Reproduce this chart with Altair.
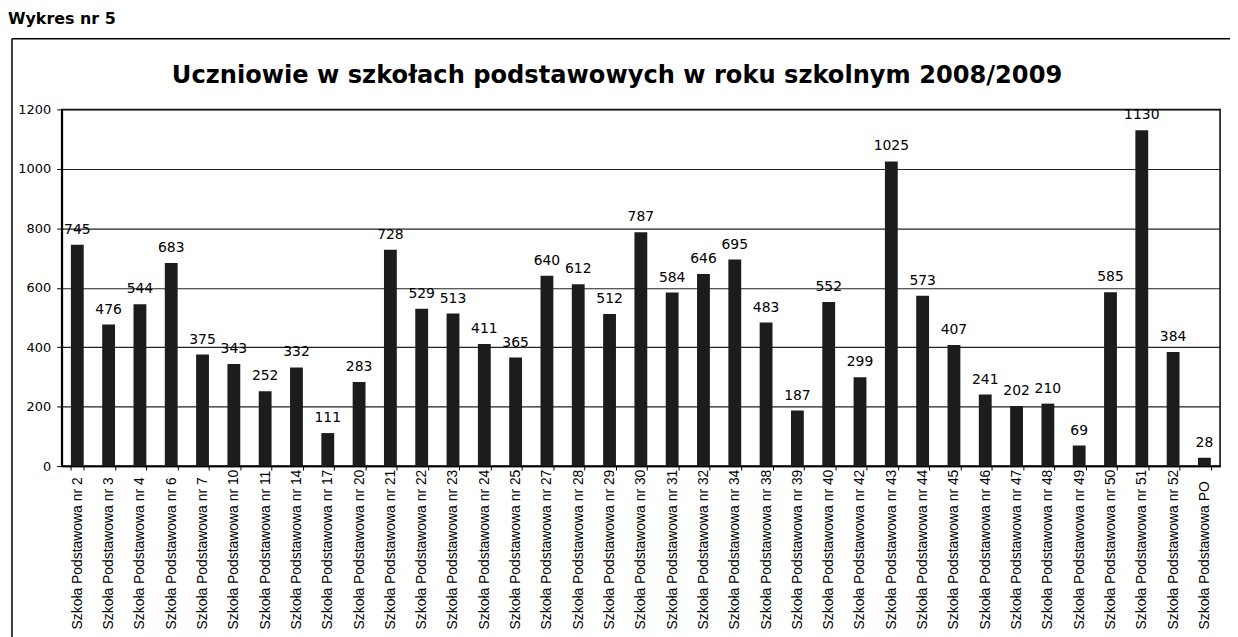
import altair as alt
import pandas as pd

schools = [
    "Szkoła Podstawowa nr 2", "Szkoła Podstawowa nr 3", "Szkoła Podstawowa nr 4",
    "Szkoła Podstawowa nr 6", "Szkoła Podstawowa nr 7", "Szkoła Podstawowa nr 10",
    "Szkoła Podstawowa nr 11", "Szkoła Podstawowa nr 14", "Szkoła Podstawowa nr 17",
    "Szkoła Podstawowa nr 20", "Szkoła Podstawowa nr 21", "Szkoła Podstawowa nr 22",
    "Szkoła Podstawowa nr 23", "Szkoła Podstawowa nr 24", "Szkoła Podstawowa nr 25",
    "Szkoła Podstawowa nr 27", "Szkoła Podstawowa nr 28", "Szkoła Podstawowa nr 29",
    "Szkoła Podstawowa nr 30", "Szkoła Podstawowa nr 31", "Szkoła Podstawowa nr 32",
    "Szkoła Podstawowa nr 34", "Szkoła Podstawowa nr 38", "Szkoła Podstawowa nr 39",
    "Szkoła Podstawowa nr 40", "Szkoła Podstawowa nr 42", "Szkoła Podstawowa nr 43",
    "Szkoła Podstawowa nr 44", "Szkoła Podstawowa nr 45", "Szkoła Podstawowa nr 46",
    "Szkoła Podstawowa nr 47", "Szkoła Podstawowa nr 48", "Szkoła Podstawowa nr 49",
    "Szkoła Podstawowa nr 50", "Szkoła Podstawowa nr 51", "Szkoła Podstawowa nr 52",
    "Szkoła Podstawowa PO",
]
students = [
    745, 476, 544, 683, 375, 343, 252, 332, 111, 283, 728, 529, 513, 411, 365,
    640, 612, 512, 787, 584, 646, 695, 483, 187, 552, 299, 1025, 573, 407, 241,
    202, 210, 69, 585, 1130, 384, 28,
]
y_ticks = [0, 200, 400, 600, 800, 1000, 1200]
title_text = ["Uczniowie w szkołach podstawowych w roku szkolnym 2008/2009"]
corner_text = ["Wykres nr 5"]

df = pd.DataFrame({"szkola": schools, "uczniowie": students})

x_enc = alt.X(
    "szkola:N",
    sort=schools,
    scale=alt.Scale(paddingInner=0.59, paddingOuter=0.295),
    axis=alt.Axis(
        title=None,
        labelAngle=270,
        labelAlign="left",
        labelBaseline="middle",
        labelPadding=160,
        labelFont="Liberation Sans",
        labelFontSize=14,
        labelColor="#000",
        labelLimit=300,
        tickBand="extent",
        tickSize=4,
        tickColor="#000",
        domainColor="#000",
        domainWidth=1.5,
    ),
)
y_enc = alt.Y(
    "uczniowie:Q",
    scale=alt.Scale(domain=[0, 1200], nice=False),
    axis=alt.Axis(
        title=None,
        values=y_ticks,
        format="d",
        grid=True,
        gridColor="#222",
        gridWidth=1.2,
        tickSize=5,
        tickColor="#000",
        domainColor="#000",
        domainWidth=2,
        labelFont="DejaVu Sans",
        labelFontSize=13,
        labelColor="#000",
        labelPadding=6,
    ),
)

bars = alt.Chart(df).mark_bar(color="#1c1c1c").encode(x=x_enc, y=y_enc)
labels = alt.Chart(df).mark_text(
    baseline="bottom", dy=-8, font="DejaVu Sans", fontSize=14, color="#000"
).encode(x=alt.X("szkola:N", sort=schools), y="uczniowie:Q", text="uczniowie:Q")

title = alt.Chart(pd.DataFrame({"t": title_text})).mark_text(
    font="DejaVu Sans", fontSize=24.3, fontWeight="bold", color="#000",
    align="center", baseline="middle",
).encode(x=alt.value(559), y=alt.value(-34), text="t:N")

corner = alt.Chart(pd.DataFrame({"t": corner_text})).mark_text(
    font="DejaVu Sans", fontSize=16, fontWeight="bold", color="#000",
    align="left", baseline="top",
).encode(x=alt.value(-54), y=alt.value(-99), text="t:N")

frame_left = alt.Chart(pd.DataFrame({"a": [0]})).mark_rule(
    color="#000", strokeWidth=1.5
).encode(x=alt.value(-50), y=alt.value(-71), y2=alt.value(600))
frame_top = alt.Chart(pd.DataFrame({"a": [0]})).mark_rule(
    color="#000", strokeWidth=1.5
).encode(x=alt.value(-50), x2=alt.value(1300), y=alt.value(-71))

chart = (
    alt.layer(bars, labels, title, corner, frame_left, frame_top)
    .properties(
        width=1166,
        height=359,
        padding={"left": 54, "top": 100, "right": 10, "bottom": 170},
        autosize=alt.AutoSizeParams(type="none"),
        background="white",
    )
    .configure_view(stroke="#000", strokeWidth=1.5)
)

chart.save("out.html", embed_options={"renderer": "svg", "actions": False})
